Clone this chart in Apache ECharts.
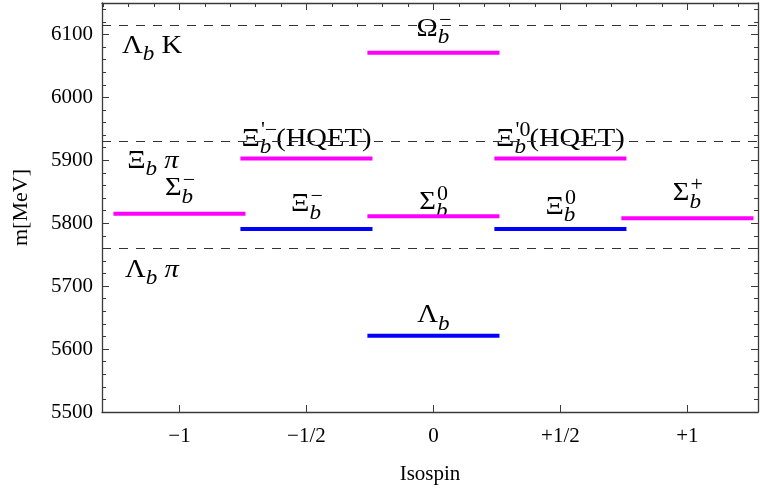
<!DOCTYPE html>
<html>
<head>
<meta charset="utf-8">
<script src="https://cdn.jsdelivr.net/npm/echarts@6/dist/echarts.min.js"></script>
<style>
  html, body { margin: 0; padding: 0; background: #fff; }
  #main { width: 760px; height: 492px; }
</style>
</head>
<body>
<div id="main"></div>
<script>
// bottom baryon levels
const isospin = [-1, -0.5, 0, 0.5, 1, 0, 0, -0.5, 0.5];
const mass = [5815, 5791, 5811, 5791, 5808, 5621, 6071, 5903, 5903];
// 1 = magenta, 0 = blue
const kind = [1, 0, 1, 0, 1, 0, 1, 1, 1];

// thresholds: Λb K, Ξb π, Λb π
const thresholds = [6115, 5930, 5760];

// tick labels
const xTicks = [-1, -0.5, 0, 0.5, 1];
const xTickLabels = ['\u22121', '\u22121/2', '0', '+1/2', '+1'];
const yTicks = [5500, 5600, 5700, 5800, 5900, 6000, 6100];

// text labels (main letter, subscript b, superscript, tail)
const labelMain = ['Λ', 'Ξ', 'Λ', 'Σ', 'Ξ', 'Σ', 'Ξ', 'Σ', 'Ξ', 'Ξ', 'Ω', 'Λ'];
const labelSup = ['', '', '', '\u2212', '\u2212', '0', '0', '+', "'\u2212", "'0", '\u2212', ''];
const labelTail = [' K', ' π', ' π', '', '', '', '', '', '(HQET)', '(HQET)', '', ''];
const labelTailItalic = [false, true, true, false, false, false, false, false, false, false, false, false];
const labelLeft = [true, true, true, false, false, false, false, false, false, false, false, false];
const labelX = [-1.226, -1.206, -1.214, -1, -0.5, 0, 0.5, 1, -0.5, 0.5, 0, 0];
const labelY = [6071, 5888, 5715, 5844, 5819, 5822, 5815, 5836, 5923, 5923, 6098, 5643];

// minor ticks (only decoration)
const yMinor = [];
for (let v = 5520; v < 6150; v += 20) {
  if (v % 100 !== 0) yMinor.push(v);
}
const xMinorTop = [];
for (let k = -13; k <= 12; k++) {
  if (k % 5 !== 0) xMinorTop.push(k / 10);
}

const serif = 'Liberation Serif';
const mainFont = '26px "Liberation Serif"';
const mainItalic = 'italic 26px "Liberation Serif"';
const subFont = 'italic 21px "Liberation Serif"';
const supFont = '20px "Liberation Serif"';

const measureCtx = document.createElement('canvas').getContext('2d');
function textWidth(s, font) {
  measureCtx.font = font;
  return measureCtx.measureText(s).width;
}

let chart = echarts.init(document.getElementById('main'), null, { renderer: 'canvas' });

const frameColor = '#3a3a3a';
const xMin = -1.305, xMax = 1.278;

function renderSegment(params, api) {
  const i = api.value(2);
  const a = api.coord([api.value(0) - 0.26, api.value(1)]);
  const b = api.coord([api.value(0) + 0.26, api.value(1)]);
  return {
    type: 'line',
    shape: { x1: a[0], y1: a[1], x2: b[0], y2: b[1] },
    style: { stroke: kind[i] ? '#ff00ff' : '#0000ff', lineWidth: 4 }
  };
}

function renderLabel(params, api) {
  const i = api.value(2);
  const pt = api.coord([api.value(0), api.value(1)]);
  const main = labelMain[i], sup = labelSup[i], tail = labelTail[i];
  const tailFont = labelTailItalic[i] ? mainItalic : mainFont;
  const wMain = textWidth(main, mainFont);
  const wScript = Math.max(textWidth('b', subFont), sup ? textWidth(sup, supFont) : 0);
  const wTail = tail ? textWidth(tail, tailFont) : 0;
  const total = wMain + wScript + wTail;
  const x0 = labelLeft[i] ? 0 : -total / 2;

  const children = [
    { type: 'rect', shape: { x: x0 - 2, y: -22, width: total + 4, height: 31 }, style: { fill: '#fff' } },
    { type: 'text', style: { text: main, x: x0, y: -7, font: mainFont, fill: '#000', align: 'left', verticalAlign: 'middle' } },
    { type: 'text', style: { text: 'b', x: x0 + wMain, y: 2, font: subFont, fill: '#000', align: 'left', verticalAlign: 'middle' } }
  ];
  if (sup) {
    children.push({ type: 'text', style: { text: sup, x: x0 + wMain + 1, y: -15, font: supFont, fill: '#000', align: 'left', verticalAlign: 'middle' } });
  }
  if (tail) {
    children.push({ type: 'text', style: { text: tail, x: x0 + wMain + wScript, y: -7, font: tailFont, fill: '#000', align: 'left', verticalAlign: 'middle' } });
  }
  return { type: 'group', x: pt[0], y: pt[1], scaleX: 1.1, children };
}

const tickLabelStyle = { fontFamily: serif, fontSize: 21, color: '#000' };

const option = {
  backgroundColor: '#ffffff',
  animation: false,
  grid: { left: 102, right: 2, top: 3, bottom: 80 },
  xAxis: [
    {
      type: 'value', position: 'bottom', min: xMin, max: xMax,
      name: 'Isospin', nameLocation: 'middle', nameGap: 52,
      nameTextStyle: { fontFamily: serif, fontSize: 21, color: '#000' },
      axisLine: { show: true, onZero: false, lineStyle: { color: frameColor, width: 1.3 } },
      axisTick: { show: true, inside: true, length: 7, customValues: xTicks, lineStyle: { color: frameColor } },
      axisLabel: {
        ...tickLabelStyle, margin: 14, customValues: xTicks,
        formatter: v => xTickLabels[xTicks.indexOf(v)]
      },
      splitLine: { show: false }
    },
    {
      type: 'value', position: 'top', min: xMin, max: xMax,
      axisLine: { show: true, onZero: false, lineStyle: { color: frameColor, width: 1.3 } },
      axisTick: { show: true, inside: true, length: 7, customValues: xTicks, lineStyle: { color: frameColor } },
      axisLabel: { show: false },
      splitLine: { show: false }
    },
    {
      type: 'value', position: 'top', min: xMin, max: xMax,
      axisLine: { show: false, onZero: false },
      axisTick: { show: true, inside: true, length: 4, customValues: xMinorTop, lineStyle: { color: frameColor } },
      axisLabel: { show: false },
      splitLine: { show: false }
    }
  ],
  yAxis: [
    {
      type: 'value', position: 'left', min: 5500, max: 6150,
      name: 'm[MeV]', nameLocation: 'middle', nameGap: 70, nameRotate: 90,
      nameTextStyle: { fontFamily: serif, fontSize: 22, color: '#000' },
      axisLine: { show: true, onZero: false, lineStyle: { color: frameColor, width: 1.3 } },
      axisTick: { show: true, inside: true, length: 7, customValues: yTicks, lineStyle: { color: frameColor } },
      axisLabel: { ...tickLabelStyle, margin: 9, customValues: yTicks, formatter: v => String(v) },
      splitLine: { show: false }
    },
    {
      type: 'value', position: 'left', min: 5500, max: 6150,
      axisLine: { show: false, onZero: false },
      axisTick: { show: true, inside: true, length: 4, customValues: yMinor, lineStyle: { color: frameColor } },
      axisLabel: { show: false },
      splitLine: { show: false }
    },
    {
      type: 'value', position: 'right', min: 5500, max: 6150,
      axisLine: { show: true, onZero: false, lineStyle: { color: frameColor, width: 1.3 } },
      axisTick: { show: true, inside: true, length: 7, customValues: yTicks, lineStyle: { color: frameColor } },
      axisLabel: { show: false },
      splitLine: { show: false }
    },
    {
      type: 'value', position: 'right', min: 5500, max: 6150,
      axisLine: { show: false, onZero: false },
      axisTick: { show: true, inside: true, length: 4, customValues: yMinor, lineStyle: { color: frameColor } },
      axisLabel: { show: false },
      splitLine: { show: false }
    }
  ],
  series: [
    {
      // dashed thresholds
      type: 'line', xAxisIndex: 0, yAxisIndex: 0, z: 1, silent: true,
      data: [],
      markLine: {
        silent: true, symbol: 'none', animation: false,
        label: { show: false },
        lineStyle: { type: [9, 8], color: '#333', width: 1.1 },
        data: thresholds.map(v => ({ yAxis: v }))
      }
    },
    {
      // labels
      type: 'custom', xAxisIndex: 0, yAxisIndex: 0, z: 2, silent: true,
      renderItem: renderLabel,
      data: labelX.map((x, i) => [x, labelY[i], i])
    },
    {
      // levels
      type: 'custom', xAxisIndex: 0, yAxisIndex: 0, z: 3, silent: true,
      renderItem: renderSegment,
      data: isospin.map((x, i) => [x, mass[i], i])
    }
  ]
};

chart.setOption(option);
</script>
</body>
</html>
